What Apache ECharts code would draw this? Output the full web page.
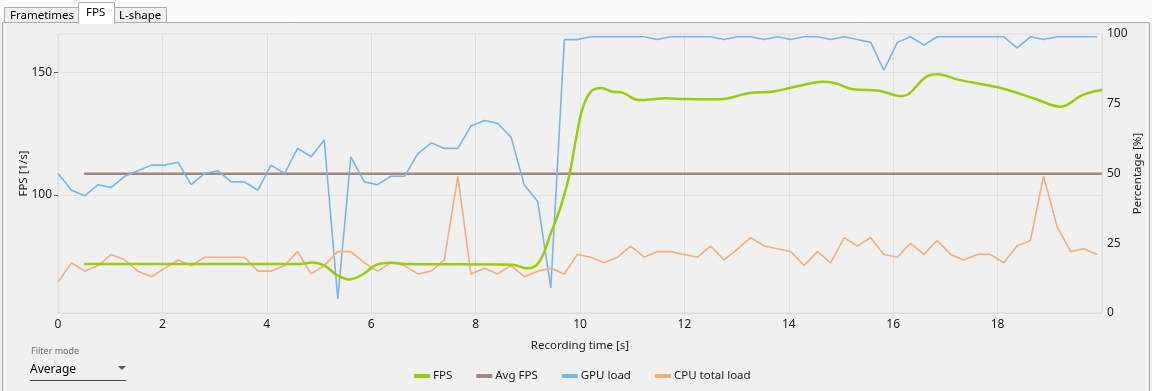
<!DOCTYPE html>
<html>
<head>
<meta charset="utf-8">
<script src="https://cdn.jsdelivr.net/npm/echarts@6/dist/echarts.min.js"></script>
<style>
html,body{margin:0;padding:0;background:#f0f0f0;}
#chart{width:1152px;height:391px;}
</style>
</head>
<body>
<div id="chart"></div>
<script>
// ---- data ----
const sampleTimes = [0.00,0.26,0.51,0.77,1.02,1.28,1.53,1.79,2.04,2.30,2.55,2.81,3.06,3.32,3.57,3.83,4.08,4.34,4.59,4.85,5.10,5.36,5.61,5.87,6.12,6.38,6.64,6.89,7.15,7.40,7.66,7.91,8.17,8.42,8.68,8.93,9.19,9.44,9.70,9.95,10.21,10.46,10.72,10.97,11.23,11.48,11.74,11.99,12.25,12.50,12.76,13.02,13.27,13.53,13.78,14.04,14.29,14.55,14.80,15.06,15.31,15.57,15.82,16.08,16.33,16.59,16.84,17.10,17.35,17.61,17.86,18.12,18.37,18.63,18.88,19.14,19.40,19.65,19.91];
const gpuLoad = [50,44,42,46,45,49,51,53,53,54,46,50,51,47,47,44,53,50,59,56,62,5,56,47,46,49,49,57,61,59,59,67,69,68,63,46,40,9,98,98,99,
  99,99,99,99,98,99,99,99,99,98,99,99,98,99,98,99,99,98,99,98,97,87,97,99,96,99,99,99,99,99,99,95,99,98,99,99,99,99];
const cpuLoad = [11,18,15,17,21,19,15,13,16,19,17,20,20,20,20,15,15,17,22,14,17,22,22,18,15,18,17,14,15,19,
  49,14,16,14,17,13,15,16,14,21,20,18,20,24,20,22,22,21,20,24,19,23,27,24,23,22,17,22,18,27,
  24,27,21,20,25,21,26,21,19,21,21,18,24,26,49,31,22,23,21];
const fpsTimes = [0.50,4.63,4.87,5.10,5.33,5.58,5.85,6.10,6.37,6.67,8.70,9.00,9.22,9.44,9.63,9.79,9.92,10.05,10.21,10.40,10.62,10.81,11.13,11.65,12.03,12.66,13.28,13.68,14.14,14.67,14.90,15.21,15.73,16.14,16.30,16.62,16.84,17.26,18.08,18.73,19.21,19.62,20.00];
const fpsValues = [71.9,71.9,72.5,71.3,67.6,65.6,67.8,71.6,72.4,71.9,71.6,70.1,72.8,84.4,95.2,107.5,122.4,135.3,142.1,143.6,142.1,141.7,138.7,139.4,139.1,139.0,141.7,142.1,144.2,146.1,145.5,143.2,142.5,140.3,141.2,148.0,149.2,146.9,143.5,139.1,136.0,140.7,142.8];
const avgFpsTimes = [0.50,20.00];
const avgFpsValue = 108.6;
const xTicks = {min:0, max:20, interval:2};
const fpsAxisTicks = [100,150];
const fpsAxisRange = [51.9,165.6];
const pctAxis = {min:0, max:100, interval:25};
const legendNames = ['FPS','Avg FPS','GPU load','CPU total load'];
const tabNames = ['Frametimes','FPS','L-shape'];
const filterLabel = 'Filter mode';
const filterValue = 'Average';

const pair = (ts, vs) => ts.map((t,i)=>[t, vs[i]]);
const FONT = '"Noto Sans", "Open Sans", sans-serif';
const colors = {fps:'#9bcc0c', avg:'#a2877f', gpu:'#7ab5e9', cpu:'#f4af7d'};

const chart = echarts.init(document.getElementById('chart'), null, {renderer:'canvas'});
chart.setOption({
  animation:false,
  backgroundColor:'#f0f0f0',
  textStyle:{fontFamily:FONT},
  grid:{left:58, right:47, top:34, bottom:78, show:true, borderColor:'#dcdcdc', borderWidth:1, backgroundColor:'transparent'},
  legend:{
    data:legendNames.map((n,i)=>({name:n, icon:'rect', itemStyle:{color:[colors.fps,colors.avg,colors.gpu,colors.cpu][i]}})),
    left:409, top:365, itemWidth:16, itemHeight:4, itemGap:24,
    textStyle:{fontFamily:FONT, fontSize:11.5, color:'#1a1a1a', padding:[0,0,0,-2]},
    selectedMode:false
  },
  xAxis:{
    type:'value', min:xTicks.min, max:xTicks.max, interval:xTicks.interval,
    name:'Recording time [s]', nameLocation:'middle', nameGap:27,
    nameTextStyle:{fontFamily:FONT, fontSize:11.5, color:'#1a1a1a'},
    axisLine:{show:true, lineStyle:{color:'#dcdcdc'}},
    axisTick:{show:false},
    axisLabel:{fontFamily:FONT, fontSize:12, color:'#1a1a1a', margin:6, showMaxLabel:false},
    splitLine:{show:true, lineStyle:{color:'#dfdfdf', width:1}}
  },
  yAxis:[{
    type:'value', min:fpsAxisRange[0], max:fpsAxisRange[1], position:'left',
    name:'FPS [1/s]', nameLocation:'middle', nameGap:28, nameRotate:90, nameMoveOverlap:false,
    nameTextStyle:{fontFamily:FONT, fontSize:11.5, color:'#1a1a1a'},
    axisLine:{show:false},
    axisTick:{show:true, length:4, customValues:fpsAxisTicks, lineStyle:{color:'#555'}},
    axisLabel:{fontFamily:FONT, fontSize:12, color:'#1a1a1a', margin:6, customValues:fpsAxisTicks},
    splitLine:{show:true, lineStyle:{color:'#dfdfdf', width:1}}
  },{
    type:'value', min:pctAxis.min, max:pctAxis.max, interval:pctAxis.interval, position:'right',
    name:'Percentage [%]', nameLocation:'middle', nameGap:30, nameRotate:90, nameMoveOverlap:false,
    nameTextStyle:{fontFamily:FONT, fontSize:11.5, color:'#1a1a1a'},
    axisLine:{show:false}, axisTick:{show:false},
    axisLabel:{fontFamily:FONT, fontSize:12, color:'#1a1a1a', margin:5},
    splitLine:{show:false}
  }],
  series:[
    {name:'FPS', type:'line', yAxisIndex:0, data:pair(fpsTimes,fpsValues), smooth:0.4, showSymbol:false, z:5,
     lineStyle:{color:colors.fps, width:2.5}, itemStyle:{color:colors.fps}},
    {name:'Avg FPS', type:'line', yAxisIndex:0, data:avgFpsTimes.map(t=>[t,avgFpsValue]), showSymbol:false, z:2,
     lineStyle:{color:colors.avg, width:2.5}, itemStyle:{color:colors.avg}},
    {name:'GPU load', type:'line', yAxisIndex:1, data:pair(sampleTimes,gpuLoad), showSymbol:false, z:3,
     lineStyle:{color:colors.gpu, width:1.6}, itemStyle:{color:colors.gpu}},
    {name:'CPU total load', type:'line', yAxisIndex:1, data:pair(sampleTimes,cpuLoad), showSymbol:false, z:3,
     lineStyle:{color:colors.cpu, width:1.6}, itemStyle:{color:colors.cpu}}
  ],
  graphic:[
    {type:'rect', silent:true, z:-10, shape:{x:0,y:0,width:1152,height:23}, style:{fill:'#fbfbfb'}},
    {type:'rect', silent:true, shape:{x:2.5,y:22.5,width:1147,height:380}, style:{fill:'none', stroke:'#acacac', lineWidth:1}},
    {type:'rect', silent:true, shape:{x:4.5,y:7.5,width:74,height:15}, style:{fill:'#f0f0f0', stroke:'#acacac', lineWidth:1}},
    {type:'text', silent:true, style:{x:10, y:15.5, text:tabNames[0], font:'11.5px '+FONT, fill:'#000', textVerticalAlign:'middle'}},
    {type:'rect', silent:true, shape:{x:78.5,y:2.5,width:36,height:21}, style:{fill:'#ffffff', stroke:'#acacac', lineWidth:1}},
    {type:'rect', silent:true, shape:{x:79,y:22,width:35,height:2}, style:{fill:'#ffffff'}},
    {type:'text', silent:true, style:{x:86, y:12.5, text:tabNames[1], font:'11.5px '+FONT, fill:'#000', textVerticalAlign:'middle'}},
    {type:'rect', silent:true, shape:{x:114.5,y:7.5,width:52,height:15}, style:{fill:'#f0f0f0', stroke:'#acacac', lineWidth:1}},
    {type:'text', silent:true, style:{x:119, y:15.5, text:tabNames[2], font:'11.5px '+FONT, fill:'#000', textVerticalAlign:'middle'}},
    {type:'text', silent:true, style:{x:31, y:351, text:filterLabel, font:'9px '+FONT, fill:'#6d6d6d', textVerticalAlign:'middle'}},
    {type:'text', silent:true, style:{x:30, y:369.5, text:filterValue, font:'12px '+FONT, fill:'#000', textVerticalAlign:'middle'}},
    {type:'polygon', silent:true, shape:{points:[[118,366],[126,366],[122,370]]}, style:{fill:'#5a5a5a'}},
    {type:'line', silent:true, shape:{x1:30,y1:380.5,x2:126,y2:380.5}, style:{stroke:'#4a4a4a', lineWidth:1}}
  ]
});
</script>
</body>
</html>
